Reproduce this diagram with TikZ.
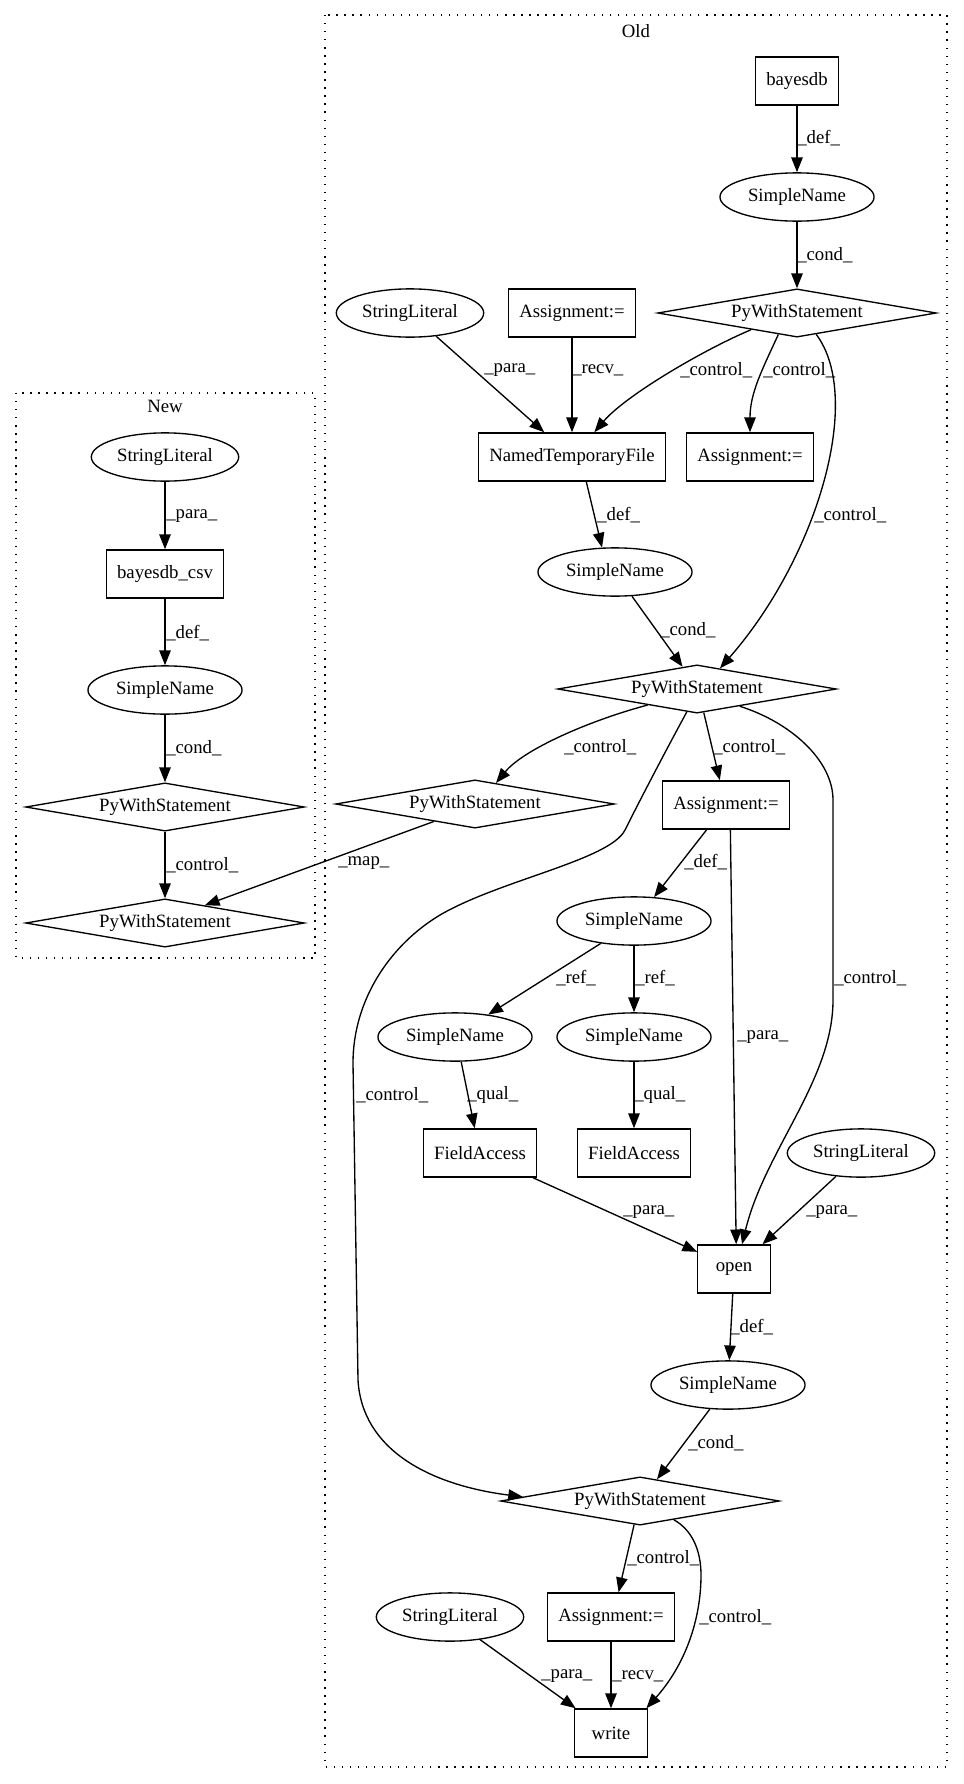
\documentclass[tikz,border=0pt]{standalone}
\usepackage{fontspec}
\setmainfont{Liberation Serif}
\usetikzlibrary{shapes.geometric,arrows.meta}
\begin{document}
\begin{tikzpicture}[x=0.7463pt,y=-0.7463pt,
  font=\fontsize{14pt}{16pt}\selectfont,
  box/.style={draw,rectangle,line width=1pt,minimum height=36pt,minimum width=54pt,inner xsep=8pt,inner ysep=0pt},
  ell/.style={draw,ellipse,line width=1pt,minimum height=36pt,minimum width=115pt,inner sep=0pt},
  dia/.style={draw,diamond,aspect=5.8,line width=1pt,minimum width=208pt,minimum height=36pt,inner sep=0pt},
  edg/.style={line width=1pt,-{Triangle[length=11pt,width=8.5pt]}},
  lbl/.style={anchor=west,inner sep=0pt},
  clus/.style={line width=1pt,dash pattern=on 1pt off 5pt},
]
\useasboundingbox (0,0) rectangle (963,1784);
\fill[white] (0,0) rectangle (963,1784);
% clusters
\draw[clus] (16,393) rectangle (315,958);
\draw[clus] (325,15) rectangle (947,1767);
\node (tnew) at (165,406) {New};
\node (told) at (636,31) {Old};
% New
\node[ell,minimum width=110pt] (sln) at (165,457) {StringLiteral};
\node[box] (bcsv) at (165,574) {bayesdb\_csv};
\node[ell] (snn) at (165,690) {SimpleName};
\node[dia] (pna) at (165,807) {PyWithStatement};
\node[dia] (pnb) at (165,923) {PyWithStatement};
% Old
\node[box] (bay) at (797,81) {bayesdb};
\node[ell] (sna) at (797,197) {SimpleName};
\node[dia] (poa) at (797,313) {PyWithStatement};
\node[ell,minimum width=110pt] (sla) at (410,313) {StringLiteral};
\node[box] (asa) at (572,313) {Assignment:=};
\node[box] (ntf) at (572,457) {NamedTemporaryFile};
\node[box] (asb) at (750,457) {Assignment:=};
\node[ell] (snb) at (615,572) {SimpleName};
\node[dia] (pob) at (697,689) {PyWithStatement};
\node[dia] (poc) at (475,804) {PyWithStatement};
\node[box] (asc) at (726,805) {Assignment:=};
\node[ell] (snc) at (634,921) {SimpleName};
\node[ell] (snd) at (455,1037) {SimpleName};
\node[ell] (sne) at (634,1037) {SimpleName};
\node[box] (faa) at (480,1153) {FieldAccess};
\node[box] (fab) at (634,1153) {FieldAccess};
\node[ell,minimum width=110pt] (slb) at (861,1153) {StringLiteral};
\node[box] (opn) at (734,1269) {open};
\node[ell] (snf) at (728,1385) {SimpleName};
\node[dia] (pod) at (640,1501) {PyWithStatement};
\node[box] (asd) at (611,1617) {Assignment:=};
\node[ell,minimum width=110pt] (slc) at (450,1617) {StringLiteral};
\node[box] (wrt) at (611,1733) {write};
% waypoints
\coordinate (rla) at (833,800);
\coordinate (rlb) at (833,1000);
\coordinate (lla) at (625,830);
\coordinate (llb) at (440,915);
\coordinate (llc) at (353,1063);
\coordinate (lld) at (358,1380);
\coordinate (wcp) at (701,1575);
% New edges
\draw[edg] (sln) -- (bcsv);
\draw[edg] (bcsv) -- (snn);
\draw[edg] (snn) -- (pna);
\draw[edg] (pna) -- (pnb);
% Old edges
\draw[edg] (bay) -- (sna);
\draw[edg] (sna) -- (poa);
\draw[edg] (sla) -- (ntf);
\draw[edg] (asa) -- (ntf);
\draw[edg] (poa.200) .. controls (705,349) and (626,395) .. (ntf.48);
\draw[edg] (poa.229) .. controls (762,370) and (750,393) .. (asb.north);
\draw[edg] (poa.312) .. controls (865,400) and (815,560) .. (pob.42);
\draw[edg] (ntf.300) -- (snb.118);
\draw[edg] (snb.305) -- (pob.123);
\draw[edg] (pob.198) .. controls (591,720) and (524,749) .. (poc.45);
\draw[edg] (pob.286) -- (asc.104);
\draw[edg] (pob.338) .. controls (790,722) and (833,760) .. (rla) -- (rlb) .. controls (833,1080) and (765,1150) .. (opn.72);
\draw[edg] (pob.246) .. controls (665,752) and (640,800) .. (lla) .. controls (610,860) and (500,880) .. (llb) .. controls (390,945) and (353,1000) .. (llc) -- (lld) .. controls (362,1450) and (430,1485) .. (pod.178);
\draw[edg] (poc.203) -- (pnb.24);
\draw[edg] (asc.232) -- (snc.50);
\draw[edg] (asc.280) -- (opn.85);
\draw[edg] (snc.214) -- (snd.34);
\draw[edg] (snc) -- (sne);
\draw[edg] (snd.284) -- (faa.102);
\draw[edg] (sne) -- (fab);
\draw[edg] (faa.335) -- (opn.155);
\draw[edg] (slb.223) -- (opn.41);
\draw[edg] (opn) -- (snf);
\draw[edg] (snf.233) -- (pod.52);
\draw[edg] (pod.256) -- (asd.73);
\draw[edg] (pod.331) .. controls (692,1530) and (701,1550) .. (wcp) .. controls (701,1620) and (685,1665) .. (wrt.35);
\draw[edg] (slc.323) -- (wrt.145);
\draw[edg] (asd) -- (wrt);
% labels New
\node[lbl] (l1) at (166,516) {\_para\_};
\node[lbl] (l2) at (166,633) {\_def\_};
\node[lbl] (l3) at (166,748) {\_cond\_};
\node[lbl] (l4) at (166,865) {\_control\_};
% labels Old
\node[lbl] (m1) at (797,138) {\_def\_};
\node[lbl] (m2) at (797,255) {\_cond\_};
\node[lbl] (m3) at (484,370) {\_para\_};
\node[lbl] (m4) at (572,370) {\_recv\_};
\node[lbl] (m5) at (680,370) {\_control\_};
\node[lbl] (m6) at (763,370) {\_control\_};
\node[lbl] (m7) at (814,515) {\_control\_};
\node[lbl] (m8) at (597,515) {\_def\_};
\node[lbl] (m9) at (660,630) {\_cond\_};
\node[lbl] (m10) at (564,747) {\_control\_};
\node[lbl] (m11) at (713,747) {\_control\_};
\node[lbl] (m12) at (338,863) {\_map\_};
\node[lbl] (m13) at (684,862) {\_def\_};
\node[lbl] (m14) at (556,978) {\_ref\_};
\node[lbl] (m15) at (635,978) {\_ref\_};
\node[lbl] (m16) at (834,978) {\_control\_};
\node[lbl] (m17) at (356,1095) {\_control\_};
\node[lbl] (m18) at (737,1037) {\_para\_};
\node[lbl] (m19) at (467,1095) {\_qual\_};
\node[lbl] (m20) at (634,1095) {\_qual\_};
\node[lbl] (m21) at (623,1212) {\_para\_};
\node[lbl] (m22) at (806,1212) {\_para\_};
\node[lbl] (m23) at (730,1327) {\_def\_};
\node[lbl] (m24) at (688,1443) {\_cond\_};
\node[lbl] (m25) at (627,1558) {\_control\_};
\node[lbl] (m26) at (699,1617) {\_control\_};
\node[lbl] (m27) at (541,1676) {\_para\_};
\node[lbl] (m28) at (612,1676) {\_recv\_};
\end{tikzpicture}
\end{document}
